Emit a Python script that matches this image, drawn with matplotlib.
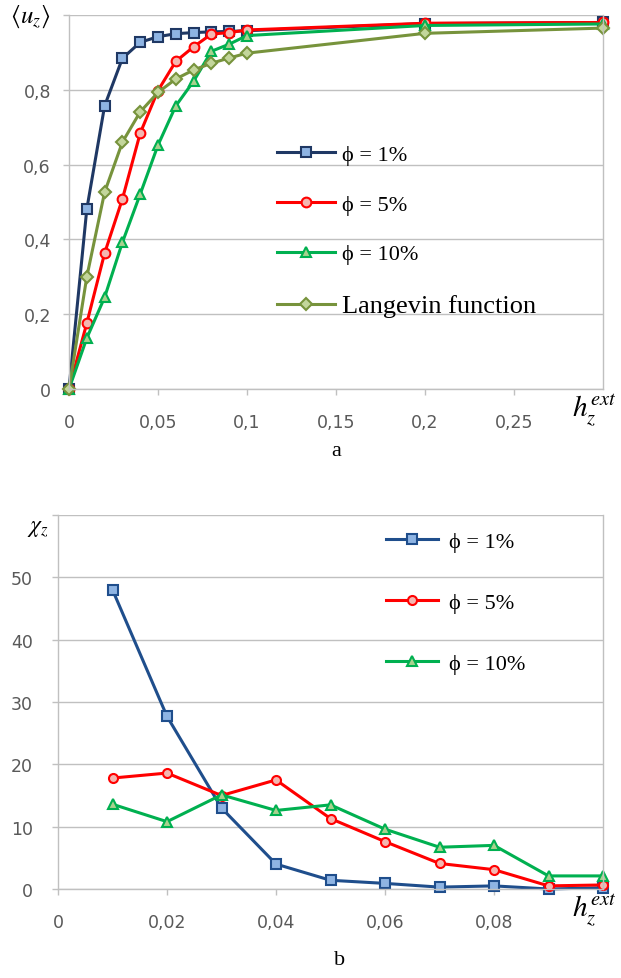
import matplotlib
matplotlib.use("Agg")
import matplotlib.pyplot as plt
from matplotlib.ticker import FuncFormatter

plt.rcParams['mathtext.fontset'] = 'stix'

# --- data: panel a, <u_z> vs h_z^ext
h_a = [0, 0.01, 0.02, 0.03, 0.04, 0.05, 0.06, 0.07, 0.08, 0.09, 0.1, 0.2, 0.3]
u_phi1 = [0, 0.481, 0.757, 0.884, 0.927, 0.942, 0.950, 0.953, 0.955, 0.956, 0.958, 0.977, 0.980]
u_phi5 = [0, 0.176, 0.363, 0.508, 0.684, 0.798, 0.876, 0.915, 0.949, 0.953, 0.960, 0.978, 0.980]
u_phi10 = [0, 0.136, 0.245, 0.392, 0.521, 0.652, 0.757, 0.823, 0.903, 0.922, 0.945, 0.972, 0.976]
u_lang = [0, 0.300, 0.526, 0.660, 0.741, 0.793, 0.829, 0.853, 0.871, 0.885, 0.898, 0.951, 0.965]

# --- data: panel b, chi_z vs h_z^ext
h_b = [0.01, 0.02, 0.03, 0.04, 0.05, 0.06, 0.07, 0.08, 0.09, 0.1]
chi_phi1 = [48.0, 27.7, 13.0, 4.0, 1.4, 0.9, 0.3, 0.5, 0.0, 0.2]
chi_phi5 = [17.8, 18.6, 15.0, 17.5, 11.3, 7.6, 4.1, 3.1, 0.5, 0.65]
chi_phi10 = [13.6, 10.8, 15.1, 12.6, 13.5, 9.6, 6.7, 7.0, 2.1, 2.1]

labels_a = ["ϕ = 1%", "ϕ = 5%", "ϕ = 10%", "Langevin function"]
labels_b = ["ϕ = 1%", "ϕ = 5%", "ϕ = 10%"]

# estilos: (color linea, relleno marcador, marcador)
st1 = ("#1F3864", "#8EB4E3", "s")
st5 = ("#FF0000", "#F4B6B0", "o")
st10 = ("#00B050", "#A9D18E", "^")
stl = ("#77933C", "#C3D69B", "D")

grid_c = "#C0C0C0"
tick_c = "#595959"


def comma(v, pos):
    s = "%g" % v
    return s.replace(".", ",")


def style_axes(ax):
    ax.grid(axis="y", color=grid_c, lw=1.0)
    ax.grid(axis="x", visible=False)
    ax.set_axisbelow(True)
    ax.spines["top"].set_visible(False)
    for s in ["left", "bottom", "right"]:
        ax.spines[s].set_color(grid_c)
        ax.spines[s].set_linewidth(1.0)
    ax.tick_params(colors=grid_c, labelcolor=tick_c, labelsize=12.5, length=4, width=1)
    for lab in ax.get_xticklabels() + ax.get_yticklabels():
        lab.set_family("DejaVu Sans")
    ax.xaxis.set_major_formatter(FuncFormatter(comma))
    ax.yaxis.set_major_formatter(FuncFormatter(comma))


fig = plt.figure(figsize=(6.21, 9.79), dpi=100)

# panel a
ax1 = fig.add_axes([69 / 621, 1 - 390 / 979, 534 / 621, 374 / 979])
for y, lab, (lc, fc, m) in zip([u_phi1, u_phi5, u_phi10, u_lang], labels_a, [st1, st5, st10, stl]):
    ms = 7 if m != "D" else 6
    ax1.plot(h_a, y, color=lc, lw=2.2, marker=m, ms=ms, mfc=fc, mec=lc, mew=1.5, label=lab, clip_on=False)
ax1.set_xlim(0, 0.3)
ax1.set_ylim(0, 1.0)
ax1.set_xticks([0, 0.05, 0.1, 0.15, 0.2, 0.25])
ax1.set_yticks([0, 0.2, 0.4, 0.6, 0.8, 1.0])
style_axes(ax1)
ax1.tick_params(axis="x", pad=13)
ax1.tick_params(axis="y", pad=9)
ax1.set_yticklabels(["0", "0,2", "0,4", "0,6", "0,8", ""])
leg1 = ax1.legend(loc="upper left", bbox_to_anchor=(266 / 621, 1 - 134 / 979), bbox_transform=fig.transFigure,
                  frameon=False, prop={"family": "Liberation Serif", "size": 16}, handlelength=2.6,
                  handletextpad=0.3, labelspacing=1.32, borderpad=0)
leg1.get_texts()[3].set_fontsize(19)
fig.text(30 / 621, 1 - 17 / 979, r"$\langle u_z\rangle$", fontsize=18, ha="center", va="center")
fig.text(594 / 621, 1 - 410 / 979, r"$h_z^{ext}$", fontsize=21, ha="center", va="center")
fig.text(336 / 621, 1 - 452 / 979, "a", fontsize=16, family="Liberation Serif", ha="center", va="center")

# panel b
ax2 = fig.add_axes([58 / 621, 1 - 890 / 979, 545 / 621, 374 / 979])
for y, lab, (lc, fc, m) in zip([chi_phi1, chi_phi5, chi_phi10], labels_b, [st1, st5, st10]):
    lc2 = "#1F4E8C" if m == "s" else lc
    ax2.plot(h_b, y, color=lc2, lw=2.2, marker=m, ms=6.5, mfc=fc, mec=lc2, mew=1.5, label=lab, clip_on=False)
ax2.set_xlim(0, 0.1)
ax2.set_ylim(0, 60)
ax2.set_xticks([0, 0.02, 0.04, 0.06, 0.08])
ax2.set_yticks([0, 10, 20, 30, 40, 50, 60])
style_axes(ax2)
ax2.tick_params(axis="x", pad=13)
ax2.tick_params(axis="y", pad=14)
ax2.set_yticklabels(["0", "10", "20", "30", "40", "50", ""])
leg2 = ax2.legend(loc="upper left", bbox_to_anchor=(375 / 621, 1 - 521 / 979), bbox_transform=fig.transFigure,
                  frameon=False, prop={"family": "Liberation Serif", "size": 16}, handlelength=2.35,
                  handletextpad=0.5, labelspacing=1.82, borderpad=0)
fig.text(38 / 621, 1 - 527 / 979, r"$\chi_z$", fontsize=17, ha="center", va="center")
fig.text(594 / 621, 1 - 910 / 979, r"$h_z^{ext}$", fontsize=21, ha="center", va="center")
fig.text(340 / 621, 1 - 961 / 979, "b", fontsize=16, family="Liberation Serif", ha="center", va="center")

plt.savefig("out.png", dpi=100)
plt.close()
